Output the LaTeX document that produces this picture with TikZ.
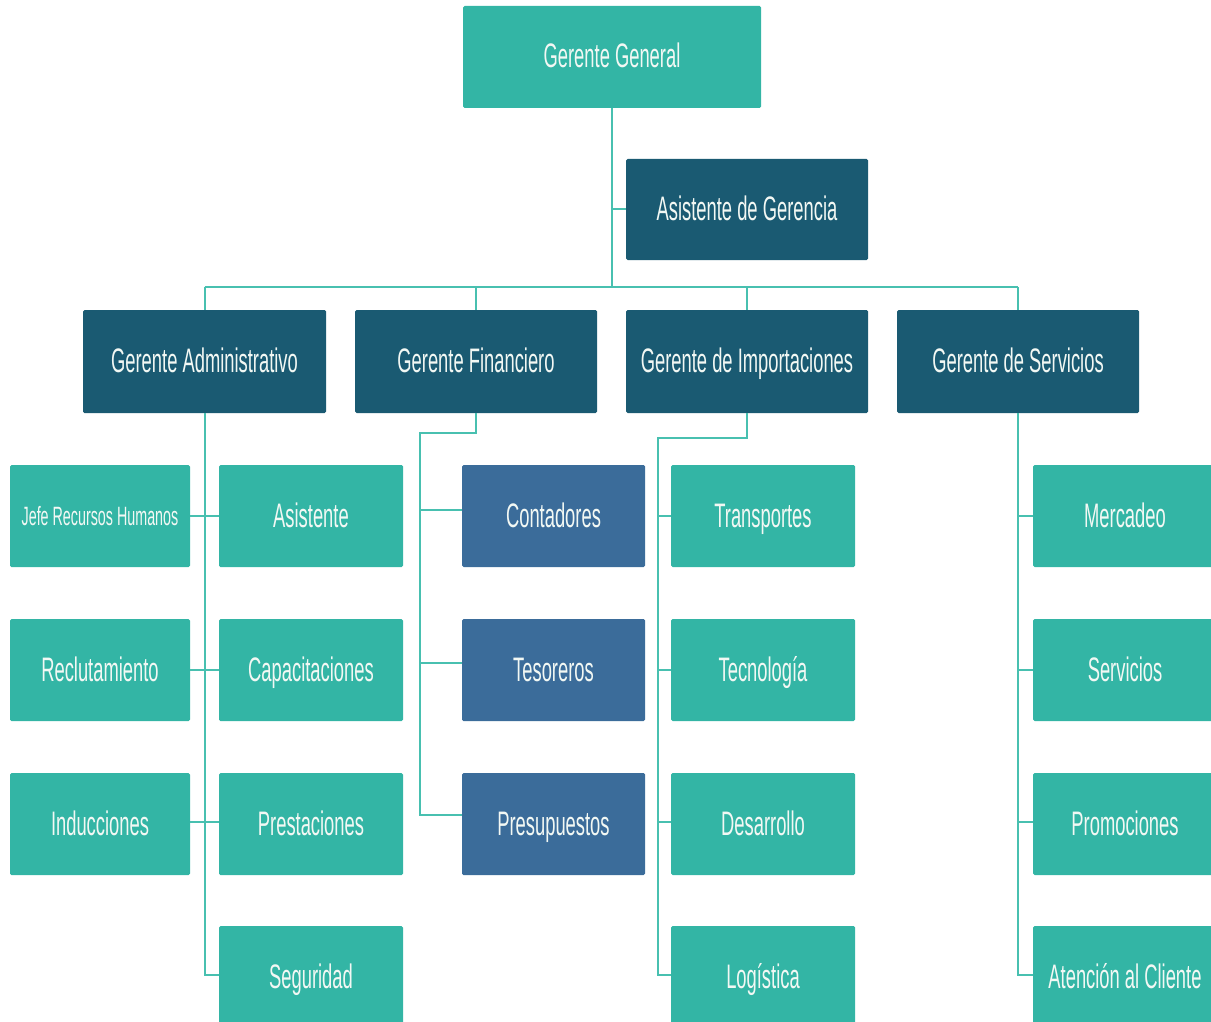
\documentclass[tikz,border=0pt]{standalone}
\usepackage{fontspec}
\setmainfont{Liberation Sans}[FakeStretch=0.54]
\definecolor{teal1}{RGB}{51,181,165}
\definecolor{dark1}{RGB}{26,90,114}
\definecolor{blue1}{RGB}{59,108,154}
\definecolor{line1}{RGB}{72,192,176}
\definecolor{txt}{RGB}{242,248,244}
\tikzset{
  box/.style={inner sep=0pt, rounded corners=1.5pt, text=txt, font=\fontsize{34}{40}\selectfont, minimum height=102pt, text height=27pt, text depth=5pt},
  tbox/.style={box, fill=teal1},
  dbox/.style={box, fill=dark1},
  bbox/.style={box, fill=blue1},
  conn/.style={draw=line1, line width=2pt}
}
\begin{document}
\begin{tikzpicture}[x=1pt,y=-1pt]
\useasboundingbox (0,0) rectangle (1211,1022);
\clip (0,0) rectangle (1211,1022);
% top
\node[tbox, minimum width=298pt] (gg) at (612,57) {Gerente General};
\node[dbox, minimum width=242pt, minimum height=101pt] (ag) at (747,209.5) {Asistente de Gerencia};
% level 2
\node[dbox, minimum width=243pt, minimum height=103pt] (ga) at (204.5,361.5) {Gerente Administrativo};
\node[dbox, minimum width=242pt, minimum height=103pt] (gf) at (476,361.5) {Gerente Financiero};
\node[dbox, minimum width=242pt, minimum height=103pt] (gi) at (747,361.5) {Gerente de Importaciones};
\node[dbox, minimum width=242pt, minimum height=103pt] (gs) at (1018,361.5) {Gerente de Servicios};
% admin
\node[tbox, minimum width=180pt, font=\fontsize{26.5}{30}\selectfont, text height=23pt, text depth=5pt] (a1l) at (100,516) {Jefe Recursos Humanos};
\node[tbox, minimum width=184pt] (a1r) at (311,516) {Asistente};
\node[tbox, minimum width=180pt] (a2l) at (100,670) {Reclutamiento};
\node[tbox, minimum width=184pt] (a2r) at (311,670) {Capacitaciones};
\node[tbox, minimum width=180pt] (a3l) at (100,824) {Inducciones};
\node[tbox, minimum width=184pt] (a3r) at (311,824) {Prestaciones};
\node[tbox, minimum width=184pt] (a4r) at (311,977) {Seguridad};
% financiero
\node[bbox, minimum width=183pt] (f1) at (553.5,516) {Contadores};
\node[bbox, minimum width=183pt] (f2) at (553.5,670) {Tesoreros};
\node[bbox, minimum width=183pt] (f3) at (553.5,824) {Presupuestos};
% importaciones
\node[tbox, minimum width=184pt] (i1) at (763,516) {Transportes};
\node[tbox, minimum width=184pt] (i2) at (763,670) {Tecnología};
\node[tbox, minimum width=184pt] (i3) at (763,824) {Desarrollo};
\node[tbox, minimum width=184pt] (i4) at (763,977) {Logística};
% servicios
\node[tbox, minimum width=184pt] (s1) at (1125,516) {Mercadeo};
\node[tbox, minimum width=184pt] (s2) at (1125,670) {Servicios};
\node[tbox, minimum width=184pt] (s3) at (1125,824) {Promociones};
\node[tbox, minimum width=184pt] (s4) at (1125,977) {Atención al Cliente};
% connectors
\coordinate (busL) at (204.5,287);
\coordinate (busR) at (1018,287);
\draw[conn] (busL) -- (busR);
\draw[conn] (gg.south) -- (gg.south |- busL);
\draw[conn] (gg.south |- ag.west) -- (ag.west);
\draw[conn] (ga.north |- busL) -- (ga.north);
\draw[conn] (gf.north |- busL) -- (gf.north);
\draw[conn] (gi.north |- busL) -- (gi.north);
\draw[conn] (gs.north |- busL) -- (gs.north);
% admin
\draw[conn] (ga.south) -- ([yshift=2pt]ga.south |- a4r.west) -- ([yshift=2pt]a4r.west);
\draw[conn] (a1l.east) -- (a1r.west);
\draw[conn] (a2l.east) -- (a2r.west);
\draw[conn] ([yshift=2pt]a3l.east) -- ([yshift=2pt]a3r.west);
% financiero
\coordinate (fk) at (420,433);
\draw[conn] (gf.south) -- (gf.south |- fk) -- (fk) -- ([yshift=9pt]fk |- f3.west) -- ([yshift=9pt]f3.west);
\draw[conn] ([yshift=6pt]fk |- f1.west) -- ([yshift=6pt]f1.west);
\draw[conn] ([yshift=7pt]fk |- f2.west) -- ([yshift=7pt]f2.west);
% importaciones
\coordinate (ik) at (658,438);
\draw[conn] (gi.south) -- (gi.south |- ik) -- (ik) -- ([yshift=2pt]ik |- i4.west) -- ([yshift=2pt]i4.west);
\draw[conn] (ik |- i1.west) -- (i1.west);
\draw[conn] (ik |- i2.west) -- (i2.west);
\draw[conn] ([yshift=2pt]ik |- i3.west) -- ([yshift=2pt]i3.west);
% servicios
\draw[conn] (gs.south) -- ([yshift=2pt]gs.south |- s4.west) -- ([yshift=2pt]s4.west);
\draw[conn] (gs.south |- s1.west) -- (s1.west);
\draw[conn] (gs.south |- s2.west) -- (s2.west);
\draw[conn] ([yshift=2pt]gs.south |- s3.west) -- ([yshift=2pt]s3.west);
\end{tikzpicture}
\end{document}
